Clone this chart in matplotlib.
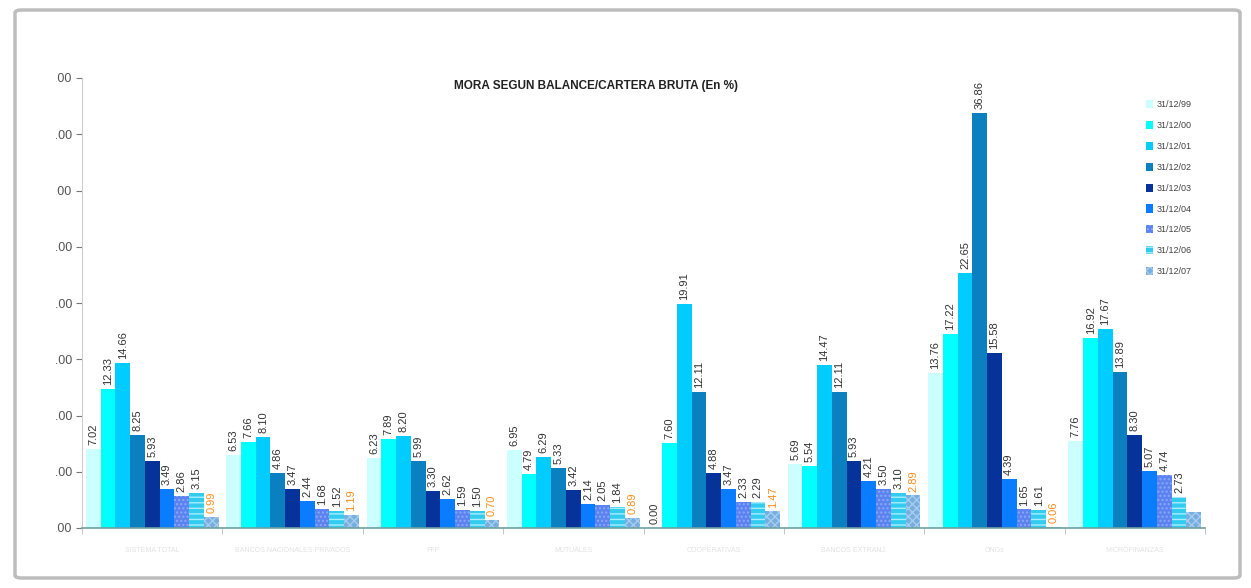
import numpy as np
import matplotlib
matplotlib.use("Agg")
import matplotlib.pyplot as plt
from matplotlib.patches import Rectangle, FancyBboxPatch

# Mora segun balance / cartera bruta (en %)
groups = ["SISTEMA TOTAL", "BANCOS NACIONALES PRIVADOS", "FFP", "MUTUALES",
          "COOPERATIVAS", "BANCOS EXTRANJ.", "ONGs", "MICROFINANZAS"]
series = ["31/12/99", "31/12/00", "31/12/01", "31/12/02", "31/12/03",
          "31/12/04", "31/12/05", "31/12/06", "31/12/07"]

d99 = [7.02, 6.53, 6.23, 6.95, 0.00, 5.69, 13.76, 7.76]
d00 = [12.33, 7.66, 7.89, 4.79, 7.60, 5.54, 17.22, 16.92]
d01 = [14.66, 8.10, 8.20, 6.29, 19.91, 14.47, 22.65, 17.67]
d02 = [8.25, 4.86, 5.99, 5.33, 12.11, 12.11, 36.86, 13.89]
d03 = [5.93, 3.47, 3.30, 3.42, 4.88, 5.93, 15.58, 8.30]
d04 = [3.49, 2.44, 2.62, 2.14, 3.47, 4.21, 4.39, 5.07]
d05 = [2.86, 1.68, 1.59, 2.05, 2.33, 3.50, 1.65, 4.74]
d06 = [3.15, 1.52, 1.50, 1.84, 2.29, 3.10, 1.61, 2.73]
d07 = [0.99, 1.19, 0.70, 0.89, 1.47, 2.89, 0.06, 1.40]
data = [d99, d00, d01, d02, d03, d04, d05, d06, d07]

colors = ["#ccffff", "#00ffff", "#00ccff", "#0a80c0", "#053399",
          "#0a7cff", "#5b82ee", "#33ccee", "#76aee0"]
hatches = [None, None, None, None, None, None, "....", "---", "xxxx"]
hatch_cols = [None, None, None, None, None, None, "#8aa8ff", "#a8ecff", "#a6cdf0"]

plt.rcParams["hatch.linewidth"] = 1.0
plt.rcParams["font.family"] = ["Liberation Sans", "DejaVu Sans"]

fig = plt.figure(figsize=(12.51, 5.88), dpi=100)
ax = fig.add_axes([82 / 1251, 60 / 588, 1123 / 1251, 450 / 588])

x = np.arange(len(groups))
w = 0.105
offs = (np.arange(9) - 4) * w

for i in range(9):
    bars = ax.bar(x + offs[i], data[i], w, color=colors[i], label=series[i],
                  hatch=hatches[i], edgecolor=hatch_cols[i] or colors[i],
                  linewidth=0)
    lab_col = "#ff8c1a" if i == 8 else "#333333"
    for b, v in zip(bars, data[i]):
        if i == 8 and b.get_x() > 7.3:
            continue
        ax.text(b.get_x() + w / 2, v + 0.35, "%.2f" % v, rotation=90,
                ha="center", va="bottom", fontsize=8, color=lab_col)

ax.set_ylim(0, 40)
ax.set_xlim(-0.5, -0.5 + 1123 / 142)
ax.set_yticks(np.arange(0, 41, 5))
ax.set_yticklabels(["%.2f" % t for t in np.arange(0, 41, 5)], fontsize=9,
                   color="#555555")
ax.set_xticks(x)
ax.set_xticklabels(groups, fontsize=5, color="#e2e2e2")
ax.tick_params(axis="x", which="major", length=0, pad=14)
ax.set_xticks(np.arange(-0.5, 8, 1), minor=True)
ax.tick_params(axis="x", which="minor", length=4, color="#bbbbbb")
ax.tick_params(axis="y", length=4, color="#777777", pad=3)
for s in ["top", "right"]:
    ax.spines[s].set_visible(False)
ax.spines["left"].set_color("#cccccc")
ax.spines["bottom"].set_color("#6fa0a0")
ax.spines["bottom"].set_linewidth(1.2)

leg = ax.legend(loc="upper left", bbox_to_anchor=(1138 / 1251, 1 - 92 / 588),
                bbox_transform=fig.transFigure, frameon=False, fontsize=6.5,
                handlelength=0.8, handleheight=1.0, handletextpad=0.4,
                labelspacing=1.3)
for t in leg.get_texts():
    t.set_color("#444444")

fig.text(596 / 1251, 1 - 86 / 588, "MORA SEGUN BALANCE/CARTERA BRUTA (En %)",
         ha="center", va="center", fontsize=8.5, fontweight="bold",
         color="#222222")

# outer frame, left part of the tick labels is hidden like in the source
fig.patches.append(Rectangle((20 / 1251, 0.02), 36 / 1251, 0.94,
                             transform=fig.transFigure, facecolor="white",
                             edgecolor="none", zorder=5))
fig.patches.append(FancyBboxPatch((15 / 1251, 10 / 588), 1225 / 1251, 568 / 588,
                                  boxstyle="round,pad=0,rounding_size=0.005",
                                  transform=fig.transFigure, facecolor="none",
                                  edgecolor="#bdbdbd", linewidth=2.5, zorder=6))

fig.savefig("out.png", dpi=100, facecolor="white")
